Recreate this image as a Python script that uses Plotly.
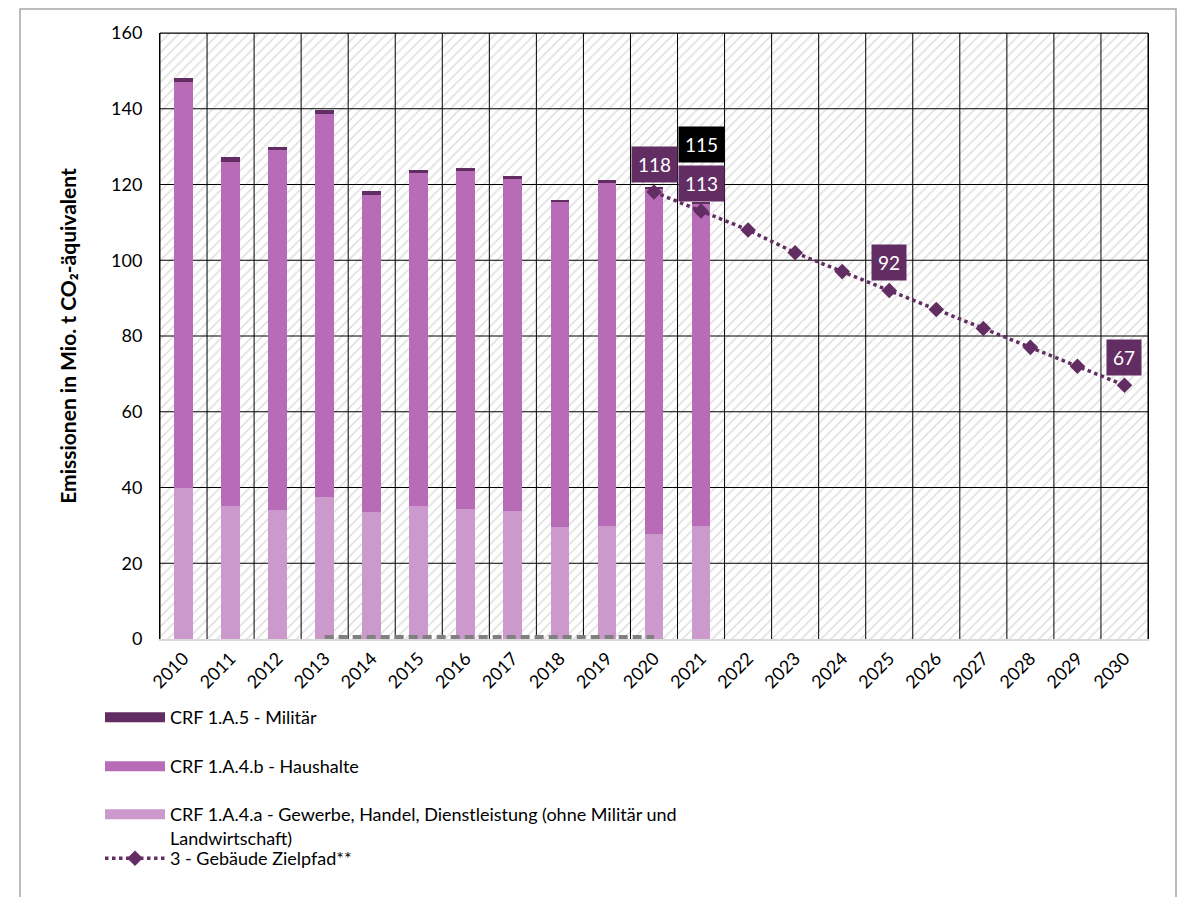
import plotly.graph_objects as go

years = list(range(2010, 2031))
bar_years = list(range(2010, 2022))

ghd = [39.8, 35.1, 34.1, 37.5, 33.6, 35.1, 34.3, 33.8, 29.6, 29.8, 27.7, 29.8]
haushalte = [107.2, 90.9, 95.0, 101.1, 83.6, 87.9, 89.3, 87.7, 85.7, 90.7, 91.1, 85.0]
militaer = [1.2, 1.2, 0.9, 1.2, 1.0, 0.8, 0.8, 0.7, 0.6, 0.7, 0.6, 0.7]

ziel_years = list(range(2020, 2031))
zielpfad = [118, 113, 108, 102, 97, 92, 87, 82, 77, 72, 67]

grey_years = list(range(2013, 2021))
grey_vals = [0.4, 0.4, 0.4, 0.4, 0.4, 0.4, 0.4, 0.4]

total_2021 = 115
label_years = [2020, 2021, 2025, 2030]

y_ticks = [0, 20, 40, 60, 80, 100, 120, 140, 160]
YMAX = 160

C_MIL = "#622D62"
C_HH = "#B86CB8"
C_GHD = "#CC99CC"
C_ZIEL = "#622D62"
FONT = "Lato"

fig = go.Figure()

# hatched background per category
fig.add_trace(go.Bar(
    x=years, y=[YMAX] * len(years), width=1.0,
    marker=dict(color="white", line=dict(width=0),
                pattern=dict(shape="/", fgcolor="#BBBBBB", bgcolor="white",
                             size=7, solidity=0.22)),
    showlegend=False, hoverinfo="skip", xaxis="x", yaxis="y"))

# grid lines drawn above hatching, below data
gx, gy = [], []
for t in y_ticks[1:]:
    gx += [years[0] - 0.5, years[-1] + 0.5, None]
    gy += [t, t, None]
for k in range(len(years) + 1):
    xv = years[0] - 0.5 + k
    gx += [xv, xv, None]
    gy += [0, YMAX, None]
fig.add_trace(go.Scatter(x=gx, y=gy, mode="lines",
                         line=dict(color="#000000", width=1),
                         showlegend=False, hoverinfo="skip", xaxis="x", yaxis="y"))

# stacked bars
for name, vals, col in [
    ("CRF 1.A.4.a - Gewerbe, Handel, Dienstleistung (ohne Militär und<br>Landwirtschaft)", ghd, C_GHD),
    ("CRF 1.A.4.b - Haushalte", haushalte, C_HH),
    ("CRF 1.A.5 - Militär", militaer, C_MIL),
]:
    fig.add_trace(go.Bar(x=bar_years, y=vals, width=0.4, name=name,
                         marker=dict(color=col, line=dict(width=0)),
                         showlegend=False, xaxis="x2", yaxis="y2"))

fig.add_trace(go.Scatter(x=grey_years, y=grey_vals, mode="lines",
                         line=dict(color="#808080", width=5, dash="9px,5px"),
                         showlegend=False, xaxis="x2", yaxis="y2"))

fig.add_trace(go.Scatter(x=ziel_years, y=zielpfad, mode="lines+markers",
                         line=dict(color=C_ZIEL, width=3.5, dash="dot"),
                         marker=dict(symbol="diamond", size=12, color=C_ZIEL),
                         showlegend=False, xaxis="x2", yaxis="y2"))

# legend entries (one legend each, to reproduce spacing)
leg_items = [
    ("CRF 1.A.5 - Militär", C_MIL, "legend", 718, "lines"),
    ("CRF 1.A.4.b - Haushalte", C_HH, "legend2", 767, "lines"),
    ("CRF 1.A.4.a - Gewerbe, Handel, Dienstleistung (ohne Militär und<br>Landwirtschaft)", C_GHD, "legend3", 815, "lines"),
    ("3 - Gebäude Zielpfad**", C_ZIEL, "legend4", 859, "ziel"),
]
for name, col, lg, py, kind in leg_items:
    if kind == "lines":
        fig.add_trace(go.Scatter(x=[None], y=[None], mode="lines", name=name,
                                 line=dict(color=col, width=10), legend=lg,
                                 xaxis="x2", yaxis="y2"))
    else:
        fig.add_trace(go.Scatter(x=[None], y=[None], mode="lines+markers", name=name,
                                 line=dict(color=col, width=3.5, dash="dot"),
                                 marker=dict(symbol="diamond", size=12, color=col),
                                 legend=lg, xaxis="x2", yaxis="y2"))

# page is offset by the 8px body margin; compensate in the margins
OFF = 8
L, T = 160 - OFF, 33 - OFF
W, H = 1189, 897
PW, PH = 988, 606
R = W - L - PW
B = H - T - PH

def px2x(p):
    return (p - OFF - L) / PW

def py2y(p):
    return (T + PH - (p - OFF)) / PH

leg_common = dict(xanchor="left", yanchor="top", bgcolor="rgba(0,0,0,0)",
                  font=dict(family=FONT, size=18, color="#000"), itemwidth=60,
                  valign="top", tracegroupgap=0)
layout_legends = {}
for name, col, lg, py, kind in leg_items:
    layout_legends[lg] = dict(leg_common, x=px2x(100), y=py2y(py - 19))

# value labels
ann = []
zmap = dict(zip(ziel_years, zielpfad))
for yr in label_years:
    ann.append(dict(x=yr, y=zmap[yr], xref="x2", yref="y2", text=str(zmap[yr]),
                    showarrow=False, yshift=28, bgcolor=C_ZIEL, borderpad=6,
                    font=dict(family=FONT, size=19, color="white")))
ann.append(dict(x=2021, y=total_2021, xref="x2", yref="y2", text=str(total_2021),
                showarrow=False, yshift=59, bgcolor="#000000", borderpad=6,
                font=dict(family=FONT, size=19, color="white")))

fig.update_layout(
    width=W, height=H,
    margin=dict(l=L, r=R, t=T, b=B, autoexpand=False),
    paper_bgcolor="white", plot_bgcolor="white",
    barmode="stack",
    font=dict(family=FONT, size=18, color="#000"),
    xaxis=dict(range=[years[0] - 0.5, years[-1] + 0.5], tickmode="array",
               tickvals=years, ticktext=[str(y) for y in years], tickangle=-45,
               showgrid=False, zeroline=False, showline=True, linecolor="#D9D9D9",
               linewidth=2, ticks="", tickfont=dict(family=FONT, size=18)),
    yaxis=dict(range=[0, YMAX], tickmode="array", tickvals=y_ticks,
               showgrid=False, zeroline=False, showline=True, mirror=True,
               linecolor="#000", linewidth=1, ticks="", ticklabelstandoff=13,
               tickfont=dict(family=FONT, size=18),
               title=dict(text="<b>Emissionen in Mio. t CO₂-äquivalent</b>",
                          font=dict(family=FONT, size=21), standoff=28)),
    xaxis2=dict(overlaying="x", matches="x", anchor="y2", visible=False,
                range=[years[0] - 0.5, years[-1] + 0.5]),
    yaxis2=dict(overlaying="y", matches="y", anchor="x2", visible=False,
                range=[0, YMAX]),
    annotations=ann,
    shapes=[
        dict(type="line", xref="paper", yref="paper", x0=0, x1=1, y0=1, y1=1,
             line=dict(color="#000", width=1), layer="above"),
        dict(type="rect", xref="paper", yref="paper",
             x0=px2x(20), x1=px2x(1176), y0=(T + PH - 1) / PH, y1=py2y(910),
             line=dict(color="#A6A6A6", width=1.5), layer="above"),
    ],
    **layout_legends,
)

fig.write_html("out.html")
